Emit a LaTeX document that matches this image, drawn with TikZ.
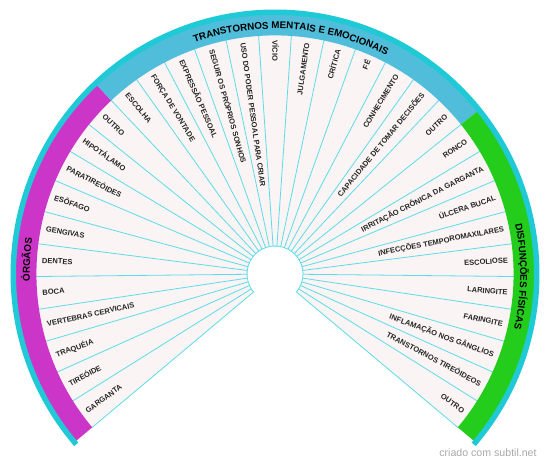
\documentclass[tikz,border=0pt]{standalone}
\usepackage{fontspec}
\setmainfont{Liberation Sans}
\usetikzlibrary{decorations.text}
\definecolor{segfill}{HTML}{FAF4F4}
\definecolor{spoke}{HTML}{5CDCE8}
\definecolor{ring}{HTML}{1FCAD6}
\definecolor{bandO}{HTML}{CC36C8}
\definecolor{bandT}{HTML}{50BEDA}
\definecolor{bandD}{HTML}{24CC1C}
\definecolor{credit}{HTML}{A8A8A8}
\tikzset{
  spokeline/.style={draw=spoke, line width=0.8pt},
  itemfont/.style ={font=\bfseries\fontsize{7.5}{9}\selectfont, inner sep=0pt, text=black!85},
  itemL/.style    ={itemfont, anchor=mid west},
  itemR/.style    ={itemfont, anchor=mid east},
  creditbox/.style={font=\fontsize{10.6}{12}\selectfont, text=credit, inner sep=0pt},
}
\newcommand\bandfont{\bfseries\fontsize{9.8}{11}\selectfont}

\begin{document}
\begin{tikzpicture}[x=1pt, y=1pt]
\useasboundingbox (0,0) rectangle (550,465);

\begin{scope}[shift={(275,191)}]
% wedges and spokes
\fill[segfill] (220:28) -- (220:239) arc[start angle=220, end angle=-40, radius=239]
  -- (-40:28) arc[start angle=-40, end angle=220, radius=28] -- cycle;
\foreach \k in {0,...,33} {
  \pgfmathsetmacro\ang{220-\k*7.878788}
  \draw[spokeline] (\ang:28) -- (\ang:239);
}
\fill[white] (0,0) circle[radius=27.6];
\draw[spokeline] (220:28) arc[start angle=220, end angle=-40, radius=28];

% bands
\foreach \col/\a/\b in {bandO/220/133.333, bandT/133.333/38.788, bandD/38.788/-40} {
  \fill[\col] (\a:238.6) -- (\a:259.5) arc[start angle=\a, end angle=\b, radius=259.5]
    -- (\b:238.6) arc[start angle=\b, end angle=\a, radius=238.6] -- cycle;
}
\fill[ring] (220.6:259) arc[start angle=220.6, end angle=-40.6, radius=259]
  -- (-40.6:264.5) arc[start angle=-40.6, end angle=220.6, radius=264.5] -- cycle;

% band titles
\path[decorate, decoration={text along path, text align=center,
  text={|\bandfont|ÓRGÃOS}}]
  (220:245.3) arc[start angle=220, end angle=133.333, radius=245.3];
\path[decorate, decoration={text along path, text align=center,
  text={|\bandfont|TRANSTORNOS MENTAIS E EMOCIONAIS}}]
  (133.333:245.3) arc[start angle=133.333, end angle=38.788, radius=245.3];
\path[decorate, decoration={text along path, text align=center,
  text={|\bandfont|DISFUNÇÕES FÍSICAS}}]
  (38.788:245.3) arc[start angle=38.788, end angle=-40, radius=245.3];

% items
\foreach \lab [count=\i] in {GARGANTA, TIREÓIDE, TRAQUÉIA, VERTEBRAS CERVICAIS,
  BOCA, DENTES, GENGIVAS, ESÔFAGO, PARATIREÓIDES, HIPOTÁLAMO, OUTRO,
  ESCOLHA, FORÇA DE VONTADE, EXPRESSÃO PESSOAL, SEGUIR OS PRÓPRIOS SONHOS,
  USO DO PODER PESSOAL PARA CRIAR, VÍCIO, JULGAMENTO, CRÍTICA, FÉ,
  CONHECIMENTO, CAPACIDADE DE TOMAR DECISÕES, OUTRO,
  RONCO, IRRITAÇÃO CRÔNICA DA GARGANTA, ÚLCERA BUCAL,
  INFECÇÕES TEMPOROMAXILARES, ESCOLIOSE, LARINGITE, FARINGITE,
  INFLAMAÇÃO NOS GÂNGLIOS, TRANSTORNOS TIREÓIDEOS, OUTRO} {
  \pgfmathsetmacro\mid{220-(\i-0.5)*7.878788}
  \ifdim\mid pt>89pt
    \pgfmathsetmacro\rot{\mid+180}
    \node[itemL, rotate=\rot] (it\i) at (\mid:233.5) {\lab};
  \else
    \node[itemR, rotate=\mid] (it\i) at (\mid:233.5) {\lab};
  \fi
}
\end{scope}

\node[creditbox] (credit) at (488,12) {criado com subtil.net};

\end{tikzpicture}
\end{document}
